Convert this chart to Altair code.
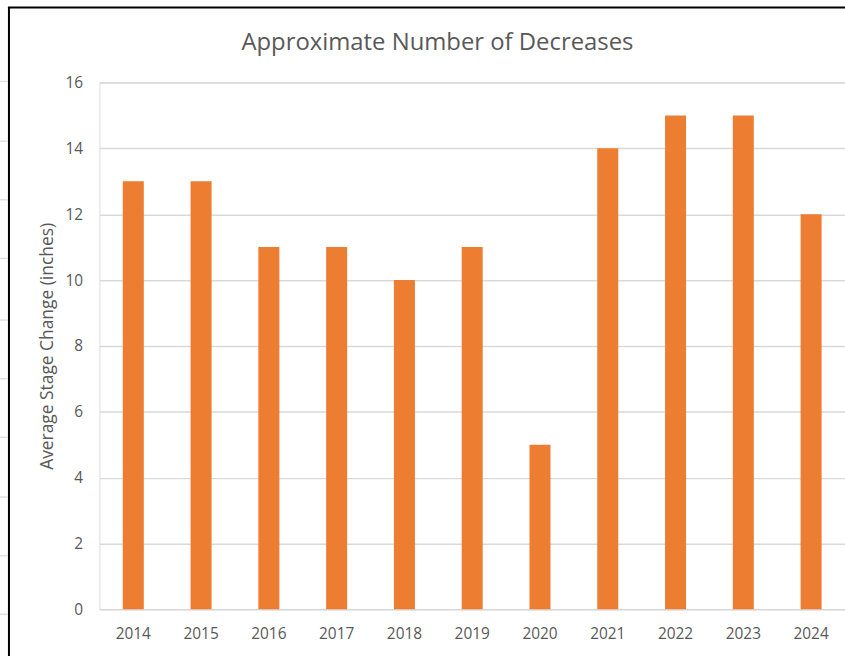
import altair as alt
import pandas as pd

# Yearly count of stage decreases
years = ["2014", "2015", "2016", "2017", "2018", "2019", "2020", "2021", "2022", "2023", "2024"]
decreases = [13, 13, 11, 11, 10, 11, 5, 14, 15, 15, 12]
chart_title = "Approximate Number of Decreases"

df = pd.DataFrame({"year": years, "count": decreases})

FONT = "Open Sans"
TEXT = "#595959"
GRID = "#D9D9D9"
BAR = "#ED7D31"

PAD_LEFT = 100
PAD_TOP = 81
PLOT_W = 750
PLOT_H = 530

bars = alt.Chart(df).mark_bar(color=BAR).encode(
    x=alt.X(
        "year:O",
        title=None,
        sort=years,
        scale=alt.Scale(paddingInner=0.69, paddingOuter=0.345),
        axis=alt.Axis(
            labelAngle=0,
            labelFont=FONT,
            labelFontSize=15.5,
            labelColor=TEXT,
            labelPadding=17,
            ticks=False,
            domain=False,
            grid=False,
        ),
    ),
    y=alt.Y(
        "count:Q",
        title="Average Stage Change (inches)",
        scale=alt.Scale(domain=[0, 16], nice=False),
        axis=alt.Axis(
            values=[0, 2, 4, 6, 8, 10, 12, 14, 16],
            labelFont=FONT,
            labelFontSize=15.5,
            labelColor=TEXT,
            labelPadding=17,
            ticks=False,
            domain=False,
            grid=True,
            gridColor=GRID,
            gridWidth=1.5,
            titleFont=FONT,
            titleFontSize=17.5,
            titleFontWeight="normal",
            titleColor=TEXT,
            titleAngle=-90,
            titleX=-52,
            titleY=PLOT_H / 2,
            titleAlign="center",
            titleBaseline="middle",
        ),
    ),
)

# Chart heading, centred over the chart frame
heading = alt.Chart().mark_text(
    font=FONT, fontSize=24, color=TEXT, align="center", baseline="middle"
).encode(x=alt.value(440 - PAD_LEFT), y=alt.value(41 - PAD_TOP), text=alt.value(chart_title))

# Worksheet frame around the chart: left border, top border, row lines
left_border = alt.Chart().mark_rule(color="black", strokeWidth=2).encode(
    x=alt.value(9 - PAD_LEFT), y=alt.value(5 - PAD_TOP), y2=alt.value(700 - PAD_TOP)
)
top_border = alt.Chart().mark_rule(color="black", strokeWidth=2).encode(
    x=alt.value(8 - PAD_LEFT), x2=alt.value(900 - PAD_LEFT), y=alt.value(5.5 - PAD_TOP)
)
row_lines = [
    alt.Chart().mark_rule(color="#E0E0E0", strokeWidth=1.5).encode(
        x=alt.value(0 - PAD_LEFT), x2=alt.value(8 - PAD_LEFT), y=alt.value(py - PAD_TOP)
    )
    for py in [80, 140, 199, 258, 320, 379, 438, 498, 557, 616]
]

chart = alt.layer(bars, heading, left_border, top_border, *row_lines).properties(
    width=PLOT_W,
    height=PLOT_H,
    autosize=alt.AutoSizeParams(type="none"),
    padding={"left": PAD_LEFT, "top": PAD_TOP, "right": 0, "bottom": 50},
).configure_view(stroke=None).configure(background="white")

chart.save("out.html", embed_options={"renderer": "svg", "actions": False})
